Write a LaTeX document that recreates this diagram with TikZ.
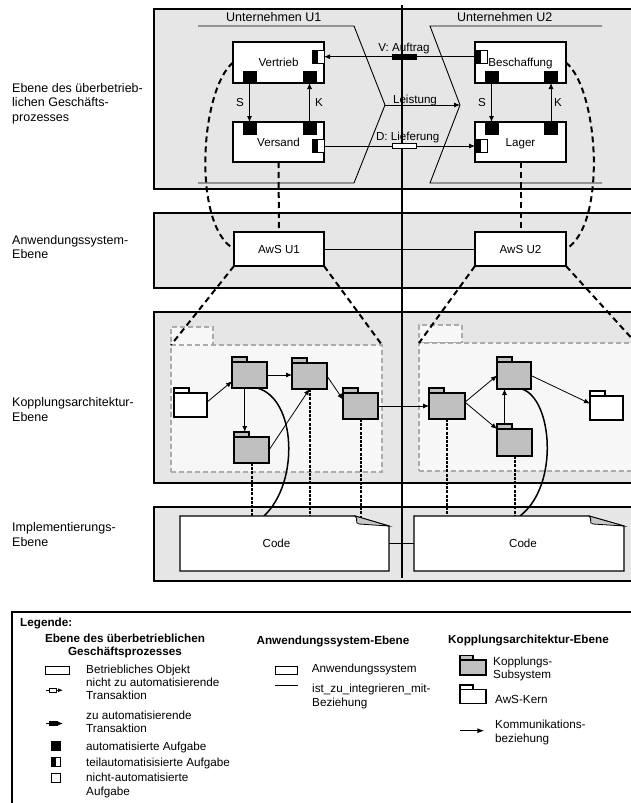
\documentclass[tikz,border=0pt]{standalone}
\usepackage{fontspec}
\setmainfont{Liberation Sans}
\usetikzlibrary{arrows.meta,calc}
\definecolor{panelgray}{HTML}{E6E6E6}
\definecolor{pkgfill}{HTML}{F7F7F7}
\definecolor{pkgline}{HTML}{ABABAB}
\definecolor{foldgray}{HTML}{C0C0C0}
\definecolor{flapgray}{HTML}{C8C8C8}
\newcommand\rslbl{\fontsize{11.6}{14}\selectfont}
\newcommand\rsbig{\fontsize{12.5}{14.4}\selectfont}
\newcommand\rslg{\fontsize{11.7}{13.6}\selectfont}
\newcommand\rsfold[6]{%
  \node[folder, fill=#6, minimum width=#4, minimum height=#5] (#1) at (#2,#3) {};
  \node[folder, fill=#6, minimum width=15, minimum height=5, anchor=south west] (#1t) at (#1.north west) {};}
\begin{document}
\begin{tikzpicture}[x=1pt,y=-1pt,
  panel/.style={draw=black, fill=panelgray, line width=1.2pt},
  box/.style={draw, fill=white, line width=1.1pt, inner sep=0pt, outer sep=0pt, font=\rslbl, text height=8.3pt, text depth=0pt},
  lbl/.style={font=\rslbl, inner sep=0pt, text height=8.3pt, text depth=0pt},
  bigl/.style={font=\rsbig, inner sep=0pt, align=left, anchor=west},
  lg/.style={font=\rslg, inner sep=0pt, align=left, anchor=west},
  lg1/.style={font=\rslg, inner sep=0pt, anchor=west, text height=8.3pt, text depth=0pt},
  lgb/.style={font=\rslg\bfseries, inner sep=0pt, align=center},
  bsq/.style={draw, fill=black, inner sep=0pt, outer sep=0pt, minimum width=13, minimum height=12},
  hsq/.style={draw, fill=white, inner sep=0pt, outer sep=0pt, minimum width=12, minimum height=13, line width=0.8pt,
     path picture={\fill[black] (path picture bounding box.north west) rectangle (path picture bounding box.south);}},
  arr/.style={-{Latex[length=6pt,width=5pt]}, line width=0.8pt},
  arrs/.style={-{Latex[length=5pt,width=4pt]}, line width=0.8pt},
  thickdash/.style={line width=2pt, dash pattern=on 6pt off 4pt},
  finedash/.style={line width=2pt, dash pattern=on 3pt off 1.2pt},
  pkg/.style={draw=pkgline, fill=pkgfill, dash pattern=on 5pt off 3pt, line width=1.2pt, inner sep=0pt, outer sep=0pt},
  folder/.style={draw, line width=1.1pt, inner sep=0pt, outer sep=0pt},
  curve/.style={line width=1.5pt},
  codebox/.style={draw, fill=white, line width=1.1pt}]
\useasboundingbox (0,0) rectangle (630,803);

% ---------- left labels
\node[bigl] (lab1) at (12,103.7) {Ebene des überbetrieb-\\lichen Geschäfts-\\prozesses};
\node[bigl] (lab2) at (12,246.8) {Anwendungssystem-\\Ebene};
\node[bigl] (lab3) at (12,409.5) {Kopplungsarchitektur-\\Ebene};
\node[bigl] (lab4) at (12,534.5) {Implementierungs-\\Ebene};

% ---------- panels
\draw[panel] (154,9) rectangle (640,189);
\draw[panel] (154,213) rectangle (640,288);
\draw[panel] (154,312) rectangle (640,483);
\draw[panel] (154,507) rectangle (640,581);

% ---------- top panel
\node[lbl, font=\rsbig] (u1) at (273.8,17.3) {Unternehmen U1};
\node[lbl, font=\rsbig] (u2) at (504.7,17.3) {Unternehmen U2};
\draw[line width=0.9pt] (198,26) -- (354,26) -- (385,105) -- (354,183) -- (198,183);
\draw[line width=0.9pt] (602,26) -- (430,26) -- (460,105) -- (430,183) -- (602,183);
\coordinate (u1tip) at (385,105);
\coordinate (u2tip) at (460,105);
\draw[arr] (u1tip) -- (u2tip);
\node[lbl] (leist) at (415,99) {Leistung};

\node[box, minimum width=91, minimum height=41] (vertrieb) at (278.5,62.5) {Vertrieb};
\node[box, minimum width=91, minimum height=40] (versand) at (278.5,142) {Versand};
\node[box, minimum width=91, minimum height=41] (besch) at (520.5,62.5) {Beschaffung};
\node[box, minimum width=91, minimum height=40] (lager) at (520.5,142) {Lager};

\node[bsq] (vbl) at (249.5,77) {};
\node[bsq] (vbr) at (309.5,77) {};
\node[bsq] (stl) at (249.5,128) {};
\node[bsq] (str) at (309.5,128) {};
\node[bsq] (bbl) at (491.5,77) {};
\node[bsq] (bbr) at (551,77) {};
\node[bsq] (ltl) at (491.5,128) {};
\node[bsq] (ltr) at (551,128) {};
\node[hsq] (vhs) at (318,56.7) {};
\node[hsq] (shs) at (318,146) {};
\node[hsq] (bhs) at (481,56.7) {};
\node[hsq] (lhs) at (481,146) {};

\draw[arr] (vbl.south) -- (stl.north);
\draw[arr] (str.north) -- (vbr.south);
\draw[arr] (bbl.south) -- (ltl.north);
\draw[arr] (ltr.north) -- (bbr.south);
\node[lbl] (s1) at (240,102.5) {S};
\node[lbl] (k1) at (319,102.5) {K};
\node[lbl] (s2) at (482,102.5) {S};
\node[lbl] (k2) at (558,102.5) {K};

\draw[arr] (bhs.west) -- (vhs.east);
\draw[arr] (shs.east) -- (lhs.west);
\node[lbl] (vauf) at (404,47.7) {V: Auftrag};
\node[lbl] (dlief) at (407.7,136.7) {D: Lieferung};

% ---------- centre line
\draw[line width=1.5pt] (402,5) -- (402,578);
\node[draw, fill=black, minimum width=24, minimum height=5, inner sep=0pt, line width=0.8pt] (vsym) at (404,56.7) {};
\node[draw, fill=white, minimum width=24, minimum height=5, inner sep=0pt, line width=0.8pt] (dsym) at (404,146) {};

% ---------- application systems
\node[box, minimum width=90, minimum height=34] (aws1) at (279,249) {AwS U1};
\node[box, minimum width=91, minimum height=34] (aws2) at (520.5,249) {AwS U2};
\draw[line width=0.9pt] (aws1.east) -- (aws2.west);
\draw[thickdash] (vertrieb.west) .. controls (200,90) and (192,225) .. (aws1.west);
\draw[thickdash] (besch.east) .. controls (599,90) and (607,225) .. (aws2.east);
\draw[thickdash] (versand.south) -- (aws1.north);
\draw[thickdash] (lager.south) -- (aws2.north);

% ---------- packages
\node[pkg, minimum width=42, minimum height=18, anchor=south west] (pkgLt) at (171,345) {};
\node[pkg, minimum width=211, minimum height=127, anchor=north west] (pkgL) at (171,345) {};
\node[pkg, minimum width=43, minimum height=18, anchor=south west] (pkgRt) at (419,343) {};
\node[pkg, minimum width=217, minimum height=128, anchor=north west] (pkgR) at (419,343) {};
\draw[thickdash] (aws1.south west) -- (pkgL.north west);
\draw[thickdash] (aws1.south east) -- (pkgL.north east);
\draw[thickdash] (aws2.south west) -- (pkgR.north west);
\draw[thickdash] (aws2.south east) -- (pkgR.north east);

% ---------- folders
\rsfold{F0}{190.5}{405}{33}{24}{white}
\rsfold{F1}{249.5}{375}{35}{26}{foldgray}
\rsfold{F2}{309.5}{376}{35}{26}{foldgray}
\rsfold{F3}{251.5}{450}{35}{26}{foldgray}
\rsfold{F4}{360.5}{406}{35}{26}{foldgray}
\rsfold{G1}{447}{406}{36}{26}{foldgray}
\rsfold{G2}{514}{375.5}{34}{27}{foldgray}
\rsfold{G3}{514.5}{442.5}{35}{27}{foldgray}
\rsfold{G4}{606.5}{408}{33}{24}{white}

\draw[arr] (F0.10) -- (F1.200);
\draw[arr] (F1.east) -- (F1.east -| F2.west);
\draw[arr] (F1.250) -- (F1.250 |- F3t.north);
\draw[arr] (F3.east) -- (F2.south);
\draw[arr] (F2.east) -- (F4.160);
\draw[arr] (F4.east) -- (F4.east -| G1.west);
\draw[arr] (G1.12) -- (G2.west);
\draw[arr] (G1.12) -- (G3.north west);
\draw[arr] (G3t.north) -- (G3t.north |- G2.south);
\draw[arr] (G2.east) -- (G4.165);

% ---------- implementation
\node[minimum width=209, minimum height=55, inner sep=0pt, outer sep=0pt] (code1) at (284.5,543.5) {};
\node[minimum width=210, minimum height=55, inner sep=0pt, outer sep=0pt] (code2) at (519,543.5) {};

\draw[curve] (F1.300) .. controls (296,398) and (300,482) .. ($(code1.north west)+(84,0)$);
\draw[curve] (G2.300) .. controls (552,398) and (560,485) .. ($(code2.north west)+(106,0)$);
\draw[finedash] (F3.south) -- (F3.south |- code1.north);
\draw[finedash] (F2.south) -- (F2.south |- code1.north);
\draw[finedash] (F4.south) -- (F4.south |- code1.north);
\draw[finedash] (G1.south) -- (G1.south |- code2.north);
\draw[finedash] (G3.south) -- (G3.south |- code2.north);

\draw[codebox] (code1.north west) -- ($(code1.north east)+(-34,0)$) -- ($(code1.north east)+(0,10)$) -- (code1.south east) -- (code1.south west) -- cycle;
\draw[fill=flapgray, line width=0.8pt] ($(code1.north east)+(-34,0)$) -- ($(code1.north east)+(0,10)$) -- ($(code1.north east)+(-30,8)$) .. controls ($(code1.north east)+(-35,7)$) and ($(code1.north east)+(-30,3)$) .. cycle;
\draw[codebox] (code2.north west) -- ($(code2.north east)+(-35,0)$) -- ($(code2.north east)+(0,10)$) -- (code2.south east) -- (code2.south west) -- cycle;
\draw[fill=flapgray, line width=0.8pt] ($(code2.north east)+(-35,0)$) -- ($(code2.north east)+(0,10)$) -- ($(code2.north east)+(-31,8)$) .. controls ($(code2.north east)+(-36,7)$) and ($(code2.north east)+(-31,3)$) .. cycle;
\node[lbl] (code1l) at ($(code1.center)+(-8,0)$) {Code};
\node[lbl] (code2l) at ($(code2.center)+(4,0)$) {Code};
\draw[line width=0.9pt] (code1.east) -- (code2.west);

% ---------- legend
\draw[line width=1.3pt] (12,815) -- (12,612) -- (640,612);
\node[lgb, anchor=west] (leg) at (20,623) {Legende:};
\node[lgb] (lh1) at (125,646) {Ebene des überbetrieblichen\\Geschäftsprozesses};
\node[lgb] (lh2) at (333,641) {Anwendungssystem-Ebene};
\node[lgb] (lh3) at (528.5,640) {Kopplungsarchitektur-Ebene};

\node[draw, line width=0.9pt, minimum width=24, minimum height=8.5, inner sep=0pt] (ls1) at (57.3,670.3) {};
\node[lg1] (lt1) at (86,669.3) {Betriebliches Objekt};

\coordinate (ls2a) at (46,690.2);
\coordinate (ls2b) at (63,690.2);
\draw[arrs] (ls2a) -- (ls2b);
\node[draw, fill=white, minimum width=7.5, minimum height=3.5, inner sep=0pt, line width=0.7pt] (ls2) at (53,690.2) {};
\node[lg] (lt2) at (86,688.9) {nicht zu automatisierende\\Transaktion};

\coordinate (ls3a) at (46,723.5);
\coordinate (ls3b) at (63,723.5);
\draw[arrs] (ls3a) -- (ls3b);
\node[draw, fill=black, minimum width=8, minimum height=4.5, inner sep=0pt, line width=0.7pt] (ls3) at (53.3,723.5) {};
\node[lg] (lt3) at (86,722) {zu automatisierende\\Transaktion};

\node[draw, fill=black, minimum width=8.3, minimum height=9, inner sep=0pt] (ls4) at (55.8,745.5) {};
\node[lg1] (lt4) at (86,746) {automatisierte Aufgabe};
\node[hsq, minimum width=8.3, minimum height=8.7] (ls5) at (55.8,761.7) {};
\node[lg1] (lt5) at (86,762) {teilautomatisisierte Aufgabe};
\node[draw, fill=white, minimum width=8.3, minimum height=8.7, inner sep=0pt, line width=0.8pt] (ls6) at (55.8,777.8) {};
\node[lg] (lt6) at (86,785.6) {nicht-automatisierte\\Aufgabe};

\node[draw, line width=0.9pt, minimum width=22.7, minimum height=7.7, inner sep=0pt] (lm1) at (286.3,670.5) {};
\node[lg1] (lmt1) at (311.7,668.3) {Anwendungssystem};
\coordinate (lm2a) at (275,685.7);
\coordinate (lm2b) at (298,685.7);
\draw[line width=0.9pt] (lm2a) -- (lm2b);
\node[lg] (lmt2) at (312,696.6) {ist\_zu\_integrieren\_mit-\\Beziehung};

\node[folder, fill=foldgray, minimum width=26, minimum height=15] (lf1) at (473,667.5) {};
\node[folder, fill=foldgray, minimum width=13, minimum height=4.3, anchor=south west] (lf1t) at (lf1.north west) {};
\node[lg] (lrt1) at (493,669.1) {Kopplungs-\\Subsystem};
\node[folder, fill=white, minimum width=26, minimum height=14] (lf2) at (473,696.3) {};
\node[folder, fill=white, minimum width=13, minimum height=4.3, anchor=south west] (lf2t) at (lf2.north west) {};
\node[lg1] (lrt2) at (495,699) {AwS-Kern};
\coordinate (la1) at (460,730.7);
\coordinate (la2) at (484.3,730.7);
\draw[-{Latex[length=7pt,width=5pt]}, line width=1pt] (la1) -- (la2);
\node[lg] (lrt3) at (495,732.6) {Kommunikations-\\beziehung};
\end{tikzpicture}
\end{document}
